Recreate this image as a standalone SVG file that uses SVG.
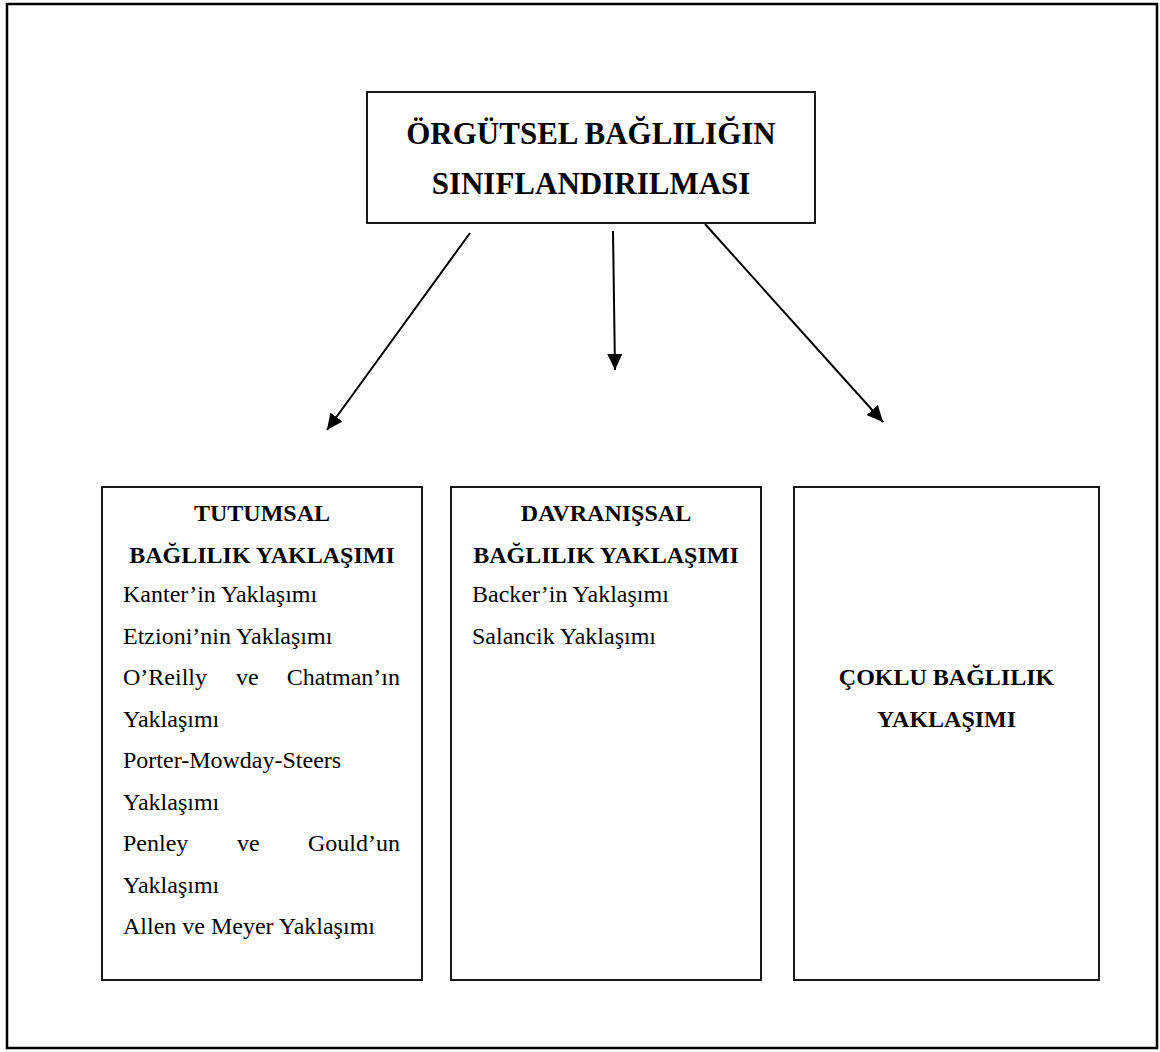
<svg xmlns="http://www.w3.org/2000/svg" width="1160" height="1052" viewBox="0 0 1160 1052">
<style>
.box{fill:#fff;stroke:#000;stroke-width:1.8}
.t{font-family:"Liberation Serif","Times New Roman",serif;font-size:24px;fill:#000}
.b{font-weight:bold}
.c{text-anchor:middle}
.e{text-anchor:end}
.title{font-family:"Liberation Serif","Times New Roman",serif;font-size:31px;font-weight:bold;text-anchor:middle;fill:#000}
.conn{stroke:#000;stroke-width:2;fill:none}
</style>
<defs>
<marker id="ah" markerWidth="16" markerHeight="15" refX="16" refY="7.5" orient="auto" markerUnits="userSpaceOnUse">
<path d="M0,0 L16,7.5 L0,15 z" fill="#000"/>
</marker>
</defs>
<rect x="0" y="0" width="1160" height="1052" fill="#fff"/>
<rect id="frame" x="7" y="4" width="1150" height="1044" fill="none" stroke="#000" stroke-width="2.5"/>

<g id="title">
<rect class="box" x="367" y="92" width="448" height="131"/>
<text class="title" x="591" y="144">ÖRGÜTSEL BAĞLILIĞIN</text>
<text class="title" x="591" y="194">SINIFLANDIRILMASI</text>
</g>

<g id="connectors">
<line class="conn" x1="470" y1="233" x2="327" y2="430" marker-end="url(#ah)"/>
<line class="conn" x1="613" y1="231" x2="615" y2="370" marker-end="url(#ah)"/>
<line class="conn" x1="705" y1="224" x2="883" y2="422" marker-end="url(#ah)"/>
</g>

<g id="tutumsal">
<rect class="box" x="102" y="487" width="320" height="493"/>
<text class="t b c" x="262" y="521">TUTUMSAL</text>
<text class="t b c" x="262" y="562.5">BAĞLILIK YAKLAŞIMI</text>
<text class="t" x="123" y="602">Kanter’in Yaklaşımı</text>
<text class="t" x="123" y="643.5">Etzioni’nin Yaklaşımı</text>
<text class="t" x="123" y="685">O’Reilly</text>
<text class="t" x="236" y="685">ve</text>
<text class="t e" x="400" y="685">Chatman’ın</text>
<text class="t" x="123" y="726.5">Yaklaşımı</text>
<text class="t" x="123" y="768">Porter-Mowday-Steers</text>
<text class="t" x="123" y="809.5">Yaklaşımı</text>
<text class="t" x="123" y="851">Penley</text>
<text class="t" x="237" y="851">ve</text>
<text class="t e" x="400" y="851">Gould’un</text>
<text class="t" x="123" y="892.5">Yaklaşımı</text>
<text class="t" x="123" y="934">Allen ve Meyer Yaklaşımı</text>
</g>

<g id="davranissal">
<rect class="box" x="451" y="487" width="310" height="493"/>
<text class="t b c" x="606" y="521">DAVRANIŞSAL</text>
<text class="t b c" x="606" y="562.5">BAĞLILIK YAKLAŞIMI</text>
<text class="t" x="472" y="602">Backer’in Yaklaşımı</text>
<text class="t" x="472" y="643.5">Salancik Yaklaşımı</text>
</g>

<g id="coklu">
<rect class="box" x="794" y="487" width="305" height="493"/>
<text class="t b c" x="946.5" y="685">ÇOKLU BAĞLILIK</text>
<text class="t b c" x="946.5" y="726.5">YAKLAŞIMI</text>
</g>
</svg>
